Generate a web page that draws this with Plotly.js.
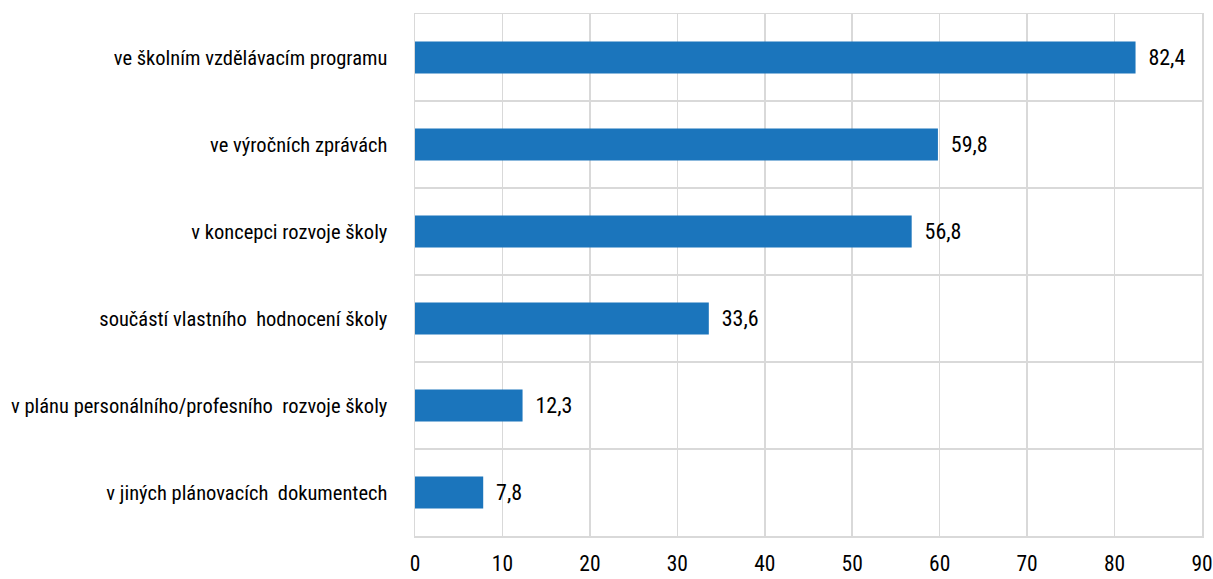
<!DOCTYPE html>
<html><head><meta charset="utf-8">
<script src="https://cdn.plot.ly/plotly-3.0.1.min.js"></script>
<style>html,body{margin:0;padding:0;background:#fff}</style>
</head><body>
<div id="chart" style="width:1213px;height:579px"></div>
<script>
const categories = [
  "ve školním vzdělávacím programu",
  "ve výročních zprávách",
  "v koncepci rozvoje školy",
  "součástí vlastního\u00a0 hodnocení školy",
  "v plánu personálního/profesního\u00a0 rozvoje školy",
  "v jiných plánovacích\u00a0 dokumentech"
];
const values = [82.4, 59.8, 56.8, 33.6, 12.3, 7.8];
const xTicks = [0, 10, 20, 30, 40, 50, 60, 70, 80, 90];

const FONT = '"Roboto Condensed", "Liberation Sans Narrow", sans-serif';

Plotly.newPlot('chart', [{
  type: 'bar',
  orientation: 'h',
  y: categories,
  x: values,
  width: 0.37,
  marker: {color: '#1b75bc', line: {width: 0}},
  texttemplate: '\u2002%{x:.1f}',
  textposition: 'outside',
  textfont: {family: FONT, size: 22, color: '#000'},
  cliponaxis: false,
  hoverinfo: 'none'
}], {
  width: 1213, height: 579,
  margin: {l: 415, r: 11, t: 14, b: 43},
  separators: ', ',
  paper_bgcolor: '#fff', plot_bgcolor: '#fff',
  showlegend: false,
  font: {family: FONT, size: 20.5, color: '#000'},
  xaxis: {
    range: [0, 90], tickvals: xTicks, ticktext: xTicks.map(String),
    tickfont: {family: FONT, size: 21.5, color: '#000'},
    showgrid: true, gridcolor: '#d9d9d9', gridwidth: 1.5,
    zeroline: false, showline: true, linecolor: '#d9d9d9', linewidth: 1.5, mirror: true,
    ticks: '', ticklabelstandoff: 8, ticklabeloverflow: 'allow', fixedrange: true
  },
  yaxis: {
    type: 'category', autorange: 'reversed',
    tickson: 'boundaries', showgrid: true, gridcolor: '#d9d9d9', gridwidth: 1.5,
    showline: true, linecolor: '#d9d9d9', linewidth: 1.5, mirror: true,
    ticks: '', ticklabelstandoff: 22, zeroline: false, fixedrange: true
  }
}, {displayModeBar: false, staticPlot: true});
</script>
</body></html>
